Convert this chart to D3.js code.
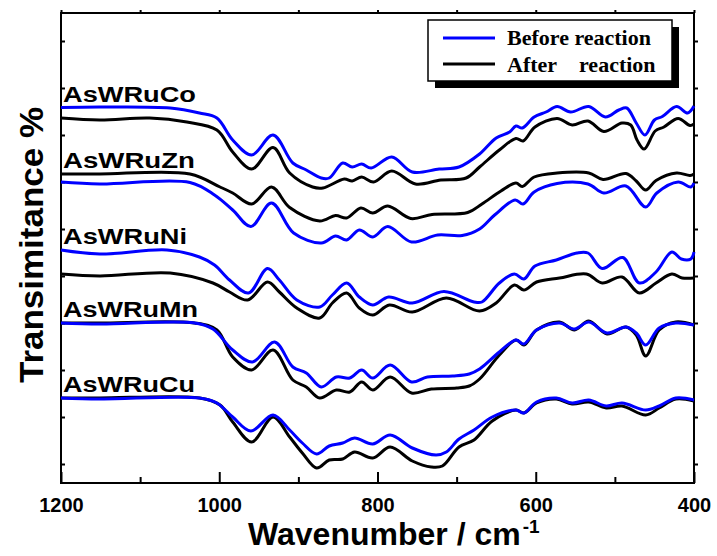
<!DOCTYPE html>
<meta charset="utf-8">
<style>
html,body {
  margin: 0px;
  padding: 0px;
  overflow: hidden;
  background-color: white;
}
svg { display: block; }
.frame { fill: none; stroke: black; stroke-width: 2; }
.axis path { display: none; }
.axis line { stroke: black; stroke-width: 2; }
.axis text {
  font-family: Arial, "Liberation Sans", sans-serif;
  font-weight: bold;
  font-size: 20px;
  fill: black;
}
.spec { fill: none; stroke-width: 3; stroke-linejoin: round; }
.sample { font-family: Arial, "Liberation Sans", sans-serif; font-weight: bold; font-size: 22px; }
.title { font-family: Arial, "Liberation Sans", sans-serif; font-weight: bold; }
.legend text { font-family: "Times New Roman", "Liberation Serif", serif; font-weight: bold; font-size: 22px; }
</style>
<body>
<svg></svg>
<script src="https://d3js.org/d3.v7.min.js"></script>
<script>

// samples, top to bottom
var samples = ["AsWRuCo", "AsWRuZn", "AsWRuNi", "AsWRuMn", "AsWRuCu"];
var xTicks = [1200, 1000, 800, 600, 400];
var xMinor = [1100, 900, 700, 500];
var yTicks = d3.range(3.8, 90, 9.4);
var legendLabels = ["Before reaction", "After", "reaction"];

// [wavenumber, transmittance (offset, a.u.)]
var coBefore = [[1200,75.1],[1151,75.2],[1062,75.0],[1025,74.0],[1003,73.0],[983,68.6],[959,65.6],[932,69.6],[907,64.0],[890,62.6],[871,61.0],[861,61.0],[844,64.0],[832,63.2],[820,63.8],[808,63.0],[782,65.2],[756,62.2],[722,62.8],[697,63.2],[671,65.8],[650,69.0],[633,70.2],[625,71.4],[617,71.0],[602,73.2],[587,74.2],[573,75.3],[556,74.2],[533,75.3],[512,73.2],[495,74.6],[485,75.0],[473,72.0],[462,69.6],[450,72.6],[440,73.3],[422,75.3],[408,74.0],[400,75.4]];
var coAfter = [[1200,73.0],[1151,72.6],[1088,73.0],[1041,72.2],[1003,70.6],[983,66.2],[959,62.8],[932,67.1],[911,62.0],[882,59.2],[869,59.0],[842,60.8],[832,60.4],[820,61.2],[805,60.2],[782,62.4],[752,59.8],[720,60.6],[688,61.0],[671,63.2],[646,66.6],[625,68.9],[616,68.4],[601,71.2],[573,72.9],[554,71.6],[534,72.4],[514,70.3],[491,72.0],[480,71.6],[472,68.6],[463,66.8],[449,70.4],[438,71.2],[420,72.9],[405,71.5],[400,71.8]];

var znBefore = [[1200,60.2],[1151,59.8],[1037,60.1],[1006,57.6],[983,54.6],[960,51.3],[934,56.0],[906,50.0],[871,48.0],[853,49.4],[839,48.6],[823,50.6],[806,49.2],[787,51.3],[757,48.2],[724,49.6],[693,49.5],[671,50.8],[652,53.6],[626,56.6],[616,55.8],[602,58.2],[573,59.9],[534,59.8],[514,58.0],[486,59.4],[461,55.2],[447,58.0],[420,60.2],[404,59.2],[400,60.0]];
var znAfter = [[1200,61.8],[1151,61.8],[1037,61.8],[999,59.2],[983,58.0],[959,55.8],[934,59.2],[911,55.1],[873,52.4],[853,53.5],[839,53.0],[821,55.0],[806,54.0],[787,55.4],[758,52.9],[731,53.7],[686,54.1],[668,55.8],[644,58.4],[625,60.0],[617,59.3],[602,61.2],[573,62.0],[533,62.0],[515,60.7],[486,61.9],[473,60.4],[461,58.6],[448,60.5],[422,62.0],[405,61.5],[400,61.8]];

var niBefore = [[1200,46.6],[1151,45.8],[1066,46.6],[1025,45.2],[1006,43.6],[987,40.6],[963,38.0],[939,42.9],[924,40.6],[902,36.6],[873,35.2],[857,37.6],[839,40.0],[823,37.2],[806,35.6],[786,37.2],[756,36.0],[716,38.3],[678,36.2],[668,36.2],[646,40.0],[627,41.8],[615,40.8],[601,43.4],[574,44.6],[548,46.0],[534,46.0],[516,42.9],[490,45.1],[469,40.0],[448,42.2],[428,46.2],[416,44.8],[404,44.8],[400,46.2]];
var niAfter = [[1200,41.8],[1151,41.4],[1062,42.0],[1008,40.0],[987,38.2],[964,36.6],[939,40.2],[924,38.2],[902,35.0],[873,33.0],[857,36.0],[839,38.0],[823,35.0],[806,33.6],[785,35.6],[756,34.2],[713,37.0],[671,34.4],[650,36.0],[627,39.6],[615,38.6],[599,40.2],[570,41.0],[536,41.8],[516,40.0],[491,41.2],[469,38.0],[448,40.0],[428,41.8],[415,41.0],[400,41.0]];

var mnBefore = [[1200,32.0],[1151,31.8],[1031,32.0],[1008,30.8],[983,26.6],[958,24.2],[930,28.2],[907,23.2],[890,22.0],[871,19.2],[852,21.2],[835,21.0],[820,22.6],[806,21.0],[784,23.6],[757,20.2],[737,21.2],[705,21.4],[684,21.8],[671,22.8],[646,26.2],[625,28.6],[615,27.8],[599,30.6],[570,32.0],[551,30.8],[533,32.2],[510,30.0],[486,31.2],[473,30.0],[461,27.6],[444,31.0],[423,32.0],[400,31.6]];
var mnAfter = [[1200,32.0],[1151,32.0],[1031,32.0],[1003,30.6],[983,25.2],[959,22.6],[932,26.6],[907,20.6],[890,19.2],[873,17.0],[852,18.6],[835,18.2],[820,20.2],[806,18.6],[784,21.2],[757,18.0],[732,18.8],[700,19.0],[684,19.4],[671,20.8],[646,25.6],[625,28.6],[615,27.6],[599,30.6],[570,32.2],[551,30.6],[533,32.4],[510,29.8],[486,31.2],[473,29.6],[461,25.4],[444,30.6],[423,32.2],[400,31.6]];

var cuBefore = [[1200,17.0],[1151,16.8],[1025,17.0],[1003,16.0],[983,13.2],[960,10.4],[932,13.6],[911,10.6],[895,8.0],[877,5.8],[861,7.4],[844,8.0],[829,9.0],[806,7.8],[784,9.6],[756,7.0],[726,5.6],[713,6.2],[697,8.8],[678,10.6],[655,13.2],[625,14.6],[615,14.0],[599,16.2],[574,17.0],[554,16.0],[533,16.6],[511,15.4],[491,16.0],[461,14.6],[444,15.4],[423,17.0],[400,16.6]];
var cuAfter = [[1200,17.0],[1151,17.0],[1025,17.0],[999,15.6],[983,12.2],[959,8.2],[932,13.2],[911,9.2],[895,6.0],[877,3.0],[861,4.6],[844,4.8],[829,6.2],[806,5.0],[784,7.2],[756,4.4],[732,3.2],[718,3.4],[697,7.2],[678,8.6],[655,12.4],[625,14.6],[615,14.0],[599,16.0],[574,16.8],[554,15.8],[533,16.2],[511,15.0],[491,15.4],[461,13.6],[444,15.0],[423,16.8],[400,16.4]];

var before = [coBefore, znBefore, niBefore, mnBefore, cuBefore];
var after = [coAfter, znAfter, niAfter, mnAfter, cuAfter];

var W = 717, H = 556;
var m = {left: 61, right: 694, top: 13, bottom: 483};

var svg = d3.select("svg").attr("width", W).attr("height", H);

var x = d3.scaleLinear().domain([1200, 400]).range([m.left, m.right]);
var y = d3.scaleLinear().domain([0, 94]).range([m.bottom, m.top]);

var line = d3.line()
  .x(function(d) { return x(d[0]); })
  .y(function(d) { return y(d[1]); })
  .curve(d3.curveCatmullRom.alpha(0.5));

// axes
svg.append("g").attr("class", "axis")
  .attr("transform", "translate(0," + m.bottom + ")")
  .call(d3.axisBottom(x).tickValues(xTicks).tickSize(-11).tickPadding(15).tickFormat(d3.format("d")));
svg.append("g").attr("class", "axis")
  .attr("transform", "translate(0," + m.bottom + ")")
  .call(d3.axisBottom(x).tickValues(xMinor).tickSize(-6).tickFormat(""));
svg.append("g").attr("class", "axis")
  .attr("transform", "translate(0," + m.top + ")")
  .call(d3.axisTop(x).tickValues(xTicks.concat(xMinor)).tickSize(3).tickFormat(""));
svg.append("g").attr("class", "axis")
  .attr("transform", "translate(" + m.left + ",0)")
  .call(d3.axisLeft(y).tickValues(yTicks).tickSize(-4).tickFormat(""));
svg.append("g").attr("class", "axis")
  .attr("transform", "translate(" + m.right + ",0)")
  .call(d3.axisRight(y).tickValues(yTicks).tickSize(4).tickFormat(""));

svg.append("rect").attr("class", "frame")
  .attr("x", m.left).attr("y", m.top)
  .attr("width", m.right - m.left).attr("height", m.bottom - m.top);

// spectra: after first, before on top
svg.selectAll(".after").data(after).enter().append("path")
  .attr("class", "spec after").attr("stroke", "black").attr("d", line);
svg.selectAll(".before").data(before).enter().append("path")
  .attr("class", "spec before").attr("stroke", "#0000ff").attr("d", line);

var labelLen = [133, 132, 124, 135, 132];
svg.selectAll(".sample").data(samples).enter().append("text")
  .attr("class", "sample")
  .attr("x", 63)
  .attr("y", function(d, i) { return y(Math.max(before[i][0][1], after[i][0][1])) - 6; })
  .attr("textLength", function(d, i) { return labelLen[i]; })
  .attr("lengthAdjust", "spacingAndGlyphs")
  .text(function(d) { return d; });

// axis titles
var xt = svg.append("text").attr("class", "title")
  .attr("x", 248).attr("y", 545).attr("font-size", 32);
xt.append("tspan").text("Wavenumber / cm");
xt.append("tspan").attr("font-size", 19).attr("dx", 2).attr("dy", -12).text("-1");

svg.append("text").attr("class", "title")
  .attr("transform", "translate(43,245) rotate(-90)")
  .attr("text-anchor", "middle")
  .attr("font-size", 34)
  .attr("textLength", 276)
  .attr("lengthAdjust", "spacingAndGlyphs")
  .text("Transimitance %");

// legend
var lg = svg.append("g").attr("class", "legend");
lg.append("rect").attr("x", 435).attr("y", 27).attr("width", 244).attr("height", 61).attr("fill", "black");
lg.append("rect").attr("x", 428).attr("y", 20).attr("width", 244).attr("height", 61)
  .attr("fill", "white").attr("stroke", "black").attr("stroke-width", 1.5);
lg.append("line").attr("x1", 443).attr("x2", 495).attr("y1", 38).attr("y2", 38)
  .attr("stroke", "#0000ff").attr("stroke-width", 3);
lg.append("line").attr("x1", 443).attr("x2", 495).attr("y1", 64).attr("y2", 64)
  .attr("stroke", "black").attr("stroke-width", 3);
lg.append("text").attr("x", 507).attr("y", 44.5).text(legendLabels[0]);
var t2 = lg.append("text").attr("x", 507).attr("y", 71.5);
t2.append("tspan").text(legendLabels[1]);
t2.append("tspan").attr("x", 579).text(legendLabels[2]);

</script>
</body>
